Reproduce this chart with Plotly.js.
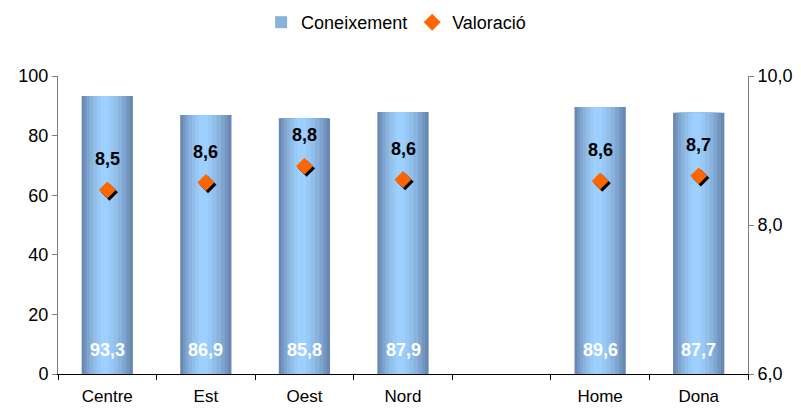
<!DOCTYPE html>
<html>
<head>
<meta charset="utf-8">
<script src="https://cdn.plot.ly/plotly-3.0.1.min.js"></script>
<style>
  html, body { margin: 0; padding: 0; background: #fff; }
  #grafica { width: 801px; height: 409px; }
</style>
</head>
<body>
<div id="grafica"></div>
<script>
// dades
const categories = ['Centre', 'Est', 'Oest', 'Nord', ' ', 'Home', 'Dona'];
const coneixement = [93.3, 86.9, 85.8, 87.9, null, 89.6, 87.7];
const valoracio = [8.47, 8.57, 8.79, 8.61, null, 8.59, 8.66];

const fmt = v => v.toFixed(1).replace('.', ',');
const font = '"Liberation Sans", Arial, sans-serif';

// capes per simular el degradat cilíndric de les barres
const capes = [
  { w: 0.52, c: '#6888b0' },
  { w: 0.46, c: '#7396c0' },
  { w: 0.40, c: '#7ea4cf' },
  { w: 0.33, c: '#89b3dd' },
  { w: 0.25, c: '#92bfea' },
  { w: 0.17, c: '#98c8f6' },
  { w: 0.09, c: '#9dcfff' }
];

const traces = capes.map((l, i) => ({
  type: 'bar',
  x: categories,
  y: coneixement,
  width: l.w,
  offset: -l.w / 2 - 0.03 * i / capes.length,
  marker: { color: l.c, line: { width: 0 } },
  name: 'Coneixement',
  showlegend: i === 3,
  legendrank: 1,
  hoverinfo: i === 0 ? 'y' : 'skip'
}));

// ombra dels rombes
traces.push({
  type: 'scatter',
  mode: 'markers',
  x: categories,
  y: valoracio,
  xaxis: 'x2',
  yaxis: 'y3',
  marker: { symbol: 'diamond', size: 13, color: '#000' },
  showlegend: false,
  hoverinfo: 'skip'
});

traces.push({
  type: 'scatter',
  mode: 'markers',
  x: categories,
  y: valoracio,
  xaxis: 'x3',
  yaxis: 'y2',
  name: 'Valoració',
  legendrank: 2,
  marker: { symbol: 'diamond', size: 13, color: '#ff6600' }
});

const annotations = [];
categories.forEach((c, i) => {
  if (coneixement[i] != null) {
    annotations.push({
      x: c, y: 0, xref: 'x', yref: 'y', yshift: 24,
      text: '<b>' + fmt(coneixement[i]) + '</b>', showarrow: false,
      font: { family: font, size: 18, color: '#ffffff' }
    });
  }
  if (valoracio[i] != null) {
    annotations.push({
      x: c, y: valoracio[i], xref: 'x', yref: 'y2', yshift: 31,
      text: '<b>' + fmt(valoracio[i]) + '</b>', showarrow: false,
      font: { family: font, size: 18, color: '#000000' }
    });
  }
});

const catAxis = {
  type: 'category',
  categoryorder: 'array',
  categoryarray: categories,
  fixedrange: true
};

const layout = {
  width: 801,
  height: 409,
  margin: { l: 58, r: 53, t: 76, b: 35 },
  paper_bgcolor: '#ffffff',
  plot_bgcolor: '#ffffff',
  font: { family: font, size: 18, color: '#000' },
  separators: ',.',
  barmode: 'overlay',
  showlegend: true,
  legend: {
    orientation: 'h', x: 0.49, xanchor: 'center',
    yref: 'container', y: 0.945, yanchor: 'middle',
    font: { family: font, size: 18 }, traceorder: 'normal',
    itemwidth: 30
  },
  xaxis: Object.assign({}, catAxis, {
    range: [-0.5, 6.5],
    tickson: 'boundaries',
    ticks: 'outside',
    ticklen: 5,
    tickcolor: '#000',
    tickfont: { family: font, size: 17 },
    ticklabelstandoff: 7,
    showline: true,
    linecolor: '#000',
    linewidth: 1,
    showgrid: false,
    zeroline: false
  }),
  xaxis2: Object.assign({}, catAxis, {
    overlaying: 'x',
    range: [-0.522, 6.478],
    visible: false
  }),
  xaxis3: Object.assign({}, catAxis, {
    overlaying: 'x',
    range: [-0.5, 6.5],
    visible: false
  }),
  yaxis: {
    range: [0, 100],
    dtick: 20,
    ticks: 'outside',
    ticklen: 5,
    tickcolor: '#808080',
    showline: true,
    linecolor: '#808080',
    showgrid: false,
    zeroline: false,
    fixedrange: true
  },
  yaxis2: {
    overlaying: 'y',
    side: 'right',
    range: [6, 10],
    dtick: 2,
    tickformat: '.1f',
    ticks: 'outside',
    ticklen: 5,
    tickcolor: '#808080',
    showline: true,
    linecolor: '#808080',
    showgrid: false,
    zeroline: false,
    fixedrange: true
  },
  yaxis3: {
    overlaying: 'y',
    range: [6.03, 10.03],
    visible: false,
    fixedrange: true
  },
  annotations: annotations
};

Plotly.newPlot('grafica', traces, layout, { displayModeBar: false, staticPlot: true });
</script>
</body>
</html>
